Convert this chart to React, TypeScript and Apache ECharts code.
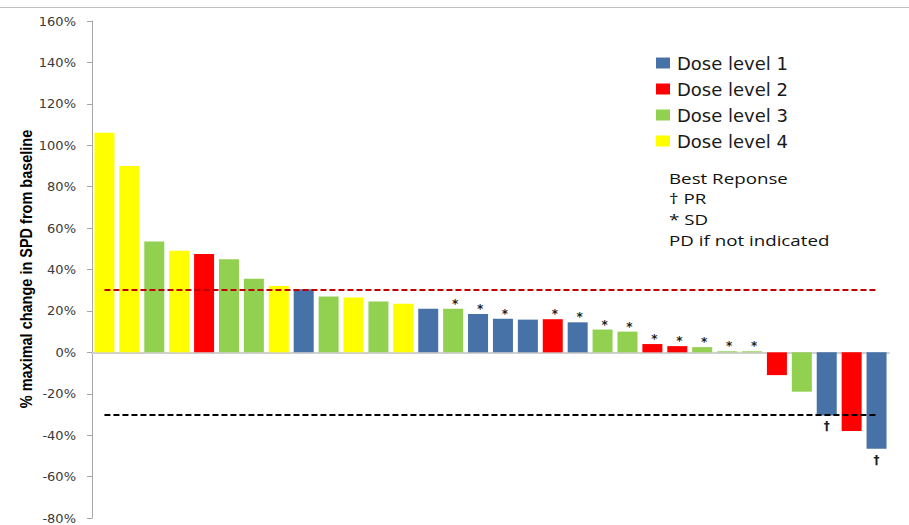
import React, { useEffect, useRef } from "react";
import * as echarts from "echarts";

// One bar per patient, sorted by best change in sum of products of diameters (SPD)
const patients = [
  "P01", "P02", "P03", "P04", "P05", "P06", "P07", "P08",
  "P09", "P10", "P11", "P12", "P13", "P14", "P15", "P16",
  "P17", "P18", "P19", "P20", "P21", "P22", "P23", "P24",
  "P25", "P26", "P27", "P28", "P29", "P30", "P31", "P32",
];

// % maximal change in SPD from baseline
const changeFromBaseline = [
  106, 90, 53.5, 49, 47.5, 45, 35.5, 32,
  30.5, 27, 26.5, 24.5, 23.5, 21, 21, 18.5,
  16.2, 15.8, 16, 14.5, 11, 10, 4, 3,
  2.5, 0.5, 0.5, -11, -19, -30.5, -38, -46.5,
];

// Dose level (1-4) of each patient
const doseLevel = [
  4, 4, 3, 4, 2, 3, 3, 4,
  1, 3, 4, 3, 4, 1, 3, 1,
  1, 1, 2, 1, 3, 3, 2, 2,
  3, 3, 3, 2, 3, 1, 2, 1,
];

// Best response: PR = partial response, SD = stable disease, PD = progression
const bestResponse = [
  "PD", "PD", "PD", "PD", "PD", "PD", "PD", "PD",
  "PD", "PD", "PD", "PD", "PD", "PD", "SD", "SD",
  "SD", "PD", "SD", "SD", "SD", "SD", "SD", "SD",
  "SD", "SD", "SD", "PD", "PD", "PR", "PD", "PR",
];

const doseNames = ["Dose level 1", "Dose level 2", "Dose level 3", "Dose level 4"];
const doseColors = ["#4672a8", "#ff0000", "#92d050", "#ffff00"];

const responseMarks: Record<string, string> = { PR: "\u2020", SD: "*", PD: "" };

const yMin = -80;
const yMax = 160;
const yStep = 20;

const progressionLine = 30;
const responseLine = -30;

const noteLines = ["Best Reponse", "\u2020 PR", "* SD", "PD if not indicated"];

function buildSeries() {
  return doseNames.map((name, d) => {
    const data = changeFromBaseline.map((v, i) => {
      if (doseLevel[i] !== d + 1) return "-";
      const mark = responseMarks[bestResponse[i]];
      if (!mark) return v;
      const below = v < 0;
      return {
        value: v,
        label: {
          show: true,
          position: below ? "bottom" : "top",
          distance: below ? 5 : -1,
          offset: below ? [0, 0] : [2, 0],
          formatter: mark,
          color: "#1f1f1f",
          fontFamily: "DejaVu Sans",
          fontWeight: "bold",
          fontSize: 12,
        },
      };
    });
    const series: any = {
      name,
      type: "bar",
      data,
      barWidth: 20,
      barGap: "-100%",
      itemStyle: { color: doseColors[d] },
      emphasis: { disabled: true },
    };
    if (d === 0) {
      series.markLine = {
        silent: true,
        symbol: ["none", "none"],
        label: { show: false },
        data: [
          [
            { coord: [patients[0], progressionLine], lineStyle: { color: "#c00000", width: 2, type: [6, 3] } },
            { coord: [patients[patients.length - 1], progressionLine] },
          ],
          [
            { coord: [patients[0], responseLine], lineStyle: { color: "#000000", width: 2, type: [6, 3] } },
            { coord: [patients[patients.length - 1], responseLine] },
          ],
        ],
      };
    }
    return series;
  });
}

export default function App() {
  const ref = useRef<HTMLDivElement>(null);

  useEffect(() => {
    if (!ref.current) return;
    const chart = echarts.init(ref.current, null, { renderer: "svg" });
    chart.setOption({
      animation: false,
      backgroundColor: "#ffffff",
      grid: { left: 92, right: 20, top: 21, bottom: 7, containLabel: false },
      legend: {
        orient: "vertical",
        left: 656,
        top: 53,
        padding: 0,
        icon: "rect",
        itemWidth: 14,
        itemHeight: 11,
        itemGap: 6,
        selectedMode: false,
        data: doseNames,
        textStyle: {
          fontFamily: "DejaVu Sans",
          fontSize: 18,
          lineHeight: 20,
          color: "#1a1a1a",
          padding: [0, 0, 0, 2],
        },
      },
      xAxis: {
        type: "category",
        data: patients,
        axisLine: { onZero: true, lineStyle: { color: "#d0d0d0", width: 2 } },
        axisTick: { show: false },
        axisLabel: { show: false },
        splitLine: { show: false },
      },
      yAxis: {
        type: "value",
        min: yMin,
        max: yMax,
        interval: yStep,
        axisLine: { show: true, lineStyle: { color: "#a6a6a6", width: 1 } },
        axisTick: { show: true, length: 5, lineStyle: { color: "#a6a6a6" } },
        splitLine: { show: false },
        axisLabel: {
          margin: 16,
          formatter: (v: number) => `${v}%`,
          fontFamily: "DejaVu Sans",
          fontSize: 13,
          color: "#3a3a3a",
        },
      },
      graphic: [
        {
          type: "line",
          shape: { x1: 0, y1: 7.5, x2: 909, y2: 7.5 },
          style: { stroke: "#c0c0c0", lineWidth: 1 },
          silent: true,
        },
        {
          type: "text",
          x: 26,
          y: 269,
          rotation: Math.PI / 2,
          scaleY: 1.2,
          style: {
            text: "% maximal change in SPD from baseline",
            font: 'bold 14.5px "Liberation Sans"',
            fill: "#000000",
            textAlign: "center",
            textVerticalAlign: "middle",
          },
          silent: true,
        },
        {
          type: "group",
          x: 669,
          y: 178,
          scaleX: 1.25,
          silent: true,
          children: noteLines.map((t, i) => ({
            type: "text",
            x: 0,
            y: i * 20.7,
            style: {
              text: t,
              font: '15px "Open Sans"',
              fill: "#111111",
              textAlign: "left",
              textVerticalAlign: "middle",
            },
          })),
        },
      ],
      series: buildSeries(),
    });
    return () => chart.dispose();
  }, []);

  return (
    <div
      ref={ref}
      style={{ position: "fixed", left: 0, top: 0, width: 909, height: 525 }}
    />
  );
}
